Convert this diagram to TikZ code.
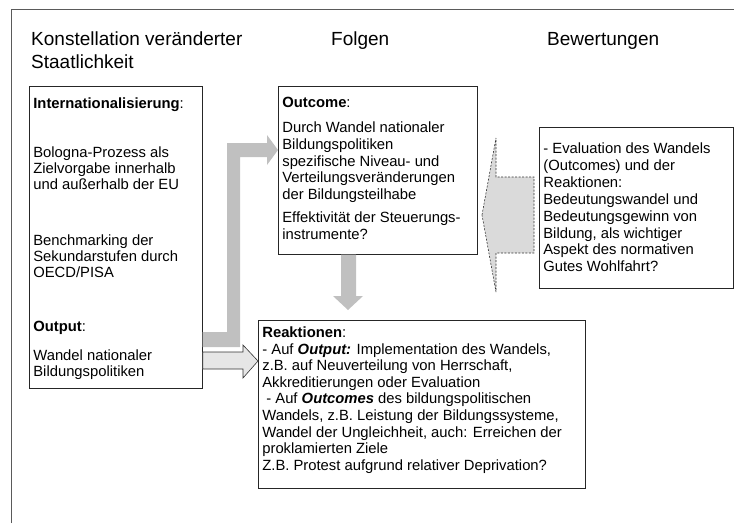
\documentclass[tikz,border=0pt]{standalone}
\usepackage{fontspec}
\setmainfont{Liberation Sans}
\usepackage{tikz}

\definecolor{bargray}{HTML}{C0C0C0}
\definecolor{lightgray}{HTML}{E6E6E6}
\definecolor{dashgray}{HTML}{DADADA}
\definecolor{linegray}{HTML}{5A5A5A}

% box content: width, height, top padding, text
\newcommand{\boxtext}[4]{\parbox[t][#2][t]{#1}{\raggedright\vspace*{#3}#4}}

\begin{document}
\begin{tikzpicture}
	[x=1pt,y=-1pt,
	box/.style={draw=black!85,line width=0.7pt,inner xsep=4pt,inner ysep=0pt,anchor=north west},
	head/.style={anchor=base west,inner sep=0pt,font=\fontsize{19}{23}\selectfont},
	bar/.style={fill=bargray},
	openarrow/.style={fill=lightgray,draw=black!80,line width=0.6pt,line join=miter},
	dasharrow/.style={fill=dashgray,draw=black!80,line width=0.6pt,dash pattern=on 2pt off 1.5pt}]
	\useasboundingbox (0,0) rectangle (734,523);
	
	% frame
	\draw[linegray,line width=1pt] (11,523) -- (11,9) -- (734,9);
	
	% column headings
	\node[head] (konst) at (31,45) {Konstellation veränderter};
	\node[head] (staat) at (31,68) {Staatlichkeit};
	\node[head] (folgen) at (331,45) {Folgen};
	\node[head] (bewert) at (547,45) {Bewertungen};
	
	% boxes
	\node[box,font=\fontsize{14.8}{16}\selectfont] (intl) at (29,86)
	{\boxtext{165pt}{302pt}{11.5pt}{\textbf{Internationalisierung}:\\[33pt]
			Bologna-Prozess als\\ Zielvorgabe innerhalb\\ und außerhalb der EU\\[40pt]
			Benchmarking der\\ Sekundarstufen durch\\ OECD/PISA\\[38pt]
			\textbf{Output}:\\[13pt]
			Wandel nationaler\\ Bildungspolitiken}};
	\node[box,font=\fontsize{14.8}{16.7}\selectfont] (outcome) at (278,86)
	{\boxtext{191pt}{168pt}{10.5pt}{\textbf{Outcome}:\\[9pt]
			Durch Wandel nationaler\\ Bildungspolitiken\\ spezifische Niveau- und\\ Verteilungsveränderungen\\ der Bildungsteilhabe\\[6pt]
			Effektivität der Steuerungs-\\ instrumente?}};
	\node[box,font=\fontsize{14.8}{16.9}\selectfont] (eval) at (539,127)
	{\boxtext{186pt}{161pt}{15.5pt}{- Evaluation des Wandels\\ (Outcomes) und der\\ Reaktionen:\\ Bedeutungswandel und\\ Bedeutungsgewinn von\\ Bildung, als wichtiger\\ Aspekt des normativen\\ Gutes Wohlfahrt?}};
	\node[box,font=\fontsize{14.8}{16.6}\selectfont] (reakt) at (258,320)
	{\boxtext{319pt}{168pt}{6.5pt}{\textbf{Reaktionen}:\\
			- Auf \textbf{\textit{Output:}} Implementation des Wandels,\\
			z.B. auf Neuverteilung von Herrschaft,\\
			Akkreditierungen oder Evaluation\\
			\hspace*{4pt}- Auf \textbf{\textit{Outcomes}} des bildungspolitischen\\
			Wandels, z.B. Leistung der Bildungssysteme,\\
			Wandel der Ungleichheit, auch: Erreichen der\\
			proklamierten Ziele\\
			Z.B. Protest aufgrund relativer Deprivation?}};
	
	% Output -> Outcome
	\fill[bar] (intl.east |- 0,332) -- (227,332) -- (227,143) -- (267,143) -- (267,135)
	-- (outcome.west |- 0,150) -- (267,165) -- (267,157) -- (240,157) -- (240,347)
	-- (intl.east |- 0,347) -- cycle;
	% Outcome -> Reaktionen
	\fill[bar] (341,0 |- outcome.south) -- (341,296) -- (333,296) -- (348,310)
	-- (363,296) -- (356,296) -- (356,0 |- outcome.south) -- cycle;
	% Output -> Reaktionen
	\draw[openarrow] (intl.east |- 0,352) -- (243,352) -- (243,345) -- (reakt.west |- 0,361)
	-- (243,378) -- (243,369) -- (intl.east |- 0,369) -- cycle;
	% Bewertungen -> Folgen
	\draw[dasharrow] (482,215) -- (496,138) -- (496,177) -- (534,177) -- (534,253)
	-- (496,253) -- (496,292) -- cycle;
	
\end{tikzpicture}
\end{document}
